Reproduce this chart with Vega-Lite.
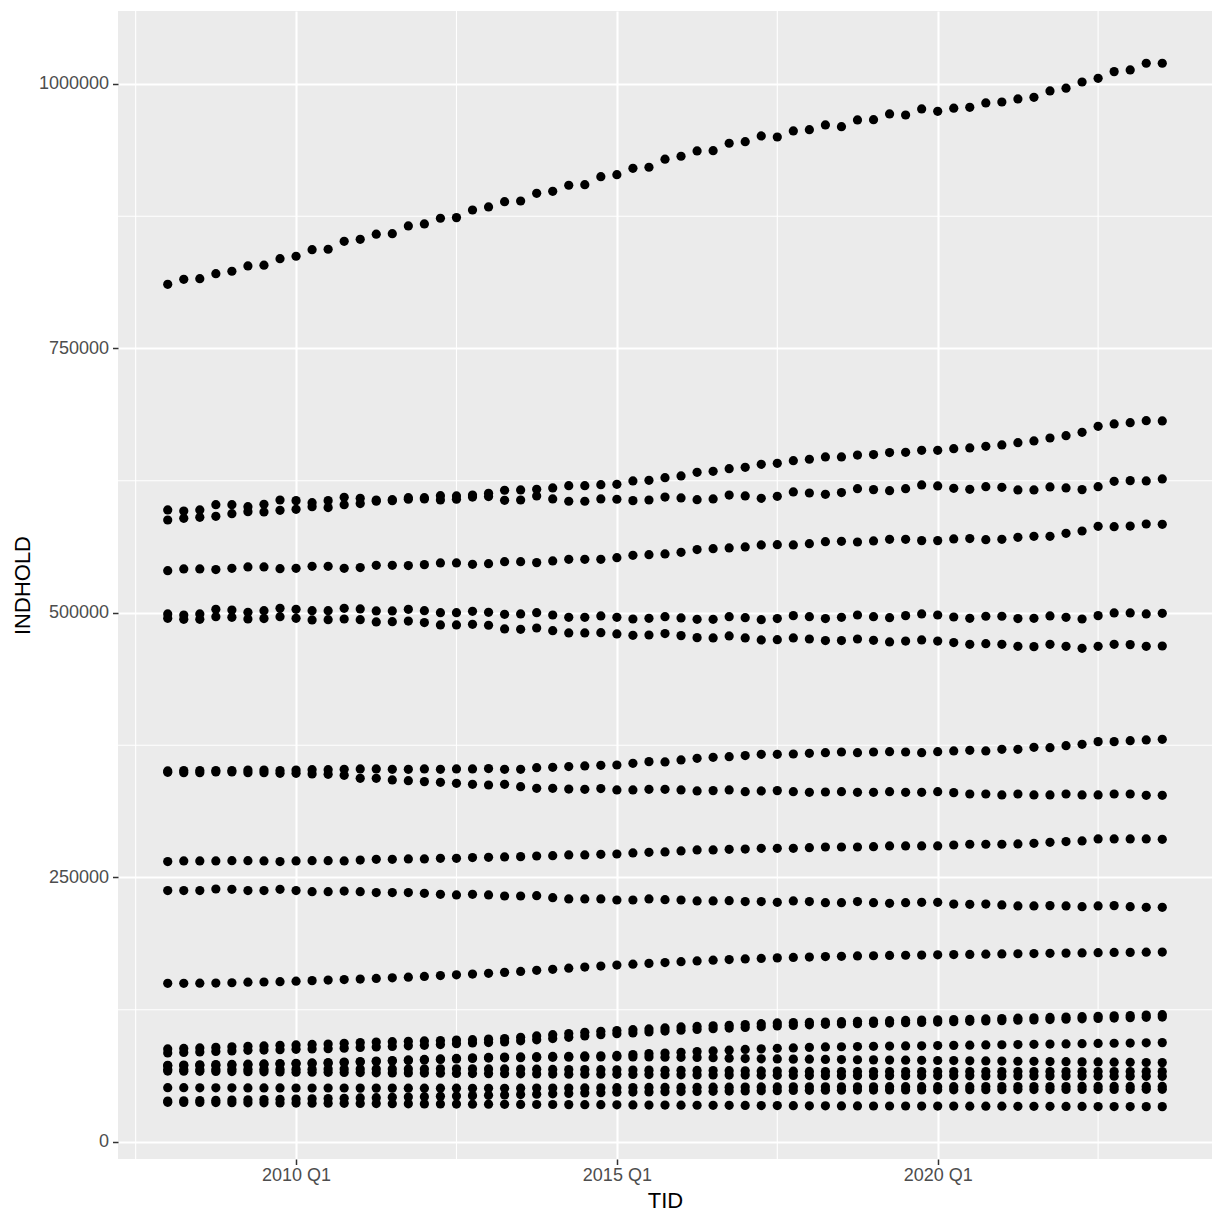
{
"$schema":"https://vega.github.io/schema/vega-lite/v6.json",
"width":1094,"height":1148,
"autosize":{"type":"none"},
"padding":{"left":118,"top":11,"right":12,"bottom":65},
"background":"white",
"config":{
"view":{"fill":"#EBEBEB","stroke":null},
"axis":{"domain":false,"grid":true,"gridColor":"white","gridWidth":2.1,"tickColor":"#333333","tickWidth":1.5,"tickSize":5.5,"labelColor":"#4D4D4D","labelFont":"Liberation Sans","labelFontSize":18,"titleFont":"Liberation Sans","titleFontSize":22,"titleColor":"black","titleFontWeight":"normal"}
},
"datasets":{
"pts":[
{"s":"A","t":2008,"v":810700},{"s":"A","t":2008.25,"v":815400},{"s":"A","t":2008.5,"v":816000},{"s":"A","t":2008.75,"v":820700},{"s":"A","t":2009,"v":823000},{"s":"A","t":2009.25,"v":828000},{"s":"A","t":2009.5,"v":828700},{"s":"A","t":2009.75,"v":834900},{"s":"A","t":2010,"v":837200},{"s":"A","t":2010.25,"v":843400},{"s":"A","t":2010.5,"v":843800},{"s":"A","t":2010.75,"v":851300},{"s":"A","t":2011,"v":853200},{"s":"A","t":2011.25,"v":858000},{"s":"A","t":2011.5,"v":858500},{"s":"A","t":2011.75,"v":865800},{"s":"A","t":2012,"v":867700},{"s":"A","t":2012.25,"v":873100},{"s":"A","t":2012.5,"v":873700},{"s":"A","t":2012.75,"v":880900},{"s":"A","t":2013,"v":883800},{"s":"A","t":2013.25,"v":888800},{"s":"A","t":2013.5,"v":889400},{"s":"A","t":2013.75,"v":896700},{"s":"A","t":2014,"v":898600},{"s":"A","t":2014.25,"v":904300},{"s":"A","t":2014.5,"v":904800},{"s":"A","t":2014.75,"v":912400},{"s":"A","t":2015,"v":914300},{"s":"A","t":2015.25,"v":920300},{"s":"A","t":2015.5,"v":921300},{"s":"A","t":2015.75,"v":928900},{"s":"A","t":2016,"v":931700},{"s":"A","t":2016.25,"v":936700},{"s":"A","t":2016.5,"v":937000},{"s":"A","t":2016.75,"v":944000},{"s":"A","t":2017,"v":945500},{"s":"A","t":2017.25,"v":950900},{"s":"A","t":2017.5,"v":949900},{"s":"A","t":2017.75,"v":955600},{"s":"A","t":2018,"v":956800},{"s":"A","t":2018.25,"v":961300},{"s":"A","t":2018.5,"v":959700},{"s":"A","t":2018.75,"v":966000},{"s":"A","t":2019,"v":966300},{"s":"A","t":2019.25,"v":971700},{"s":"A","t":2019.5,"v":970700},{"s":"A","t":2019.75,"v":976400},{"s":"A","t":2020,"v":974200},{"s":"A","t":2020.25,"v":977100},{"s":"A","t":2020.5,"v":978000},{"s":"A","t":2020.75,"v":982100},{"s":"A","t":2021,"v":983000},{"s":"A","t":2021.25,"v":985900},{"s":"A","t":2021.5,"v":987400},{"s":"A","t":2021.75,"v":993400},{"s":"A","t":2022,"v":996000},{"s":"A","t":2022.25,"v":1001900},{"s":"A","t":2022.5,"v":1005400},{"s":"A","t":2022.75,"v":1011700},{"s":"A","t":2023,"v":1013300},{"s":"A","t":2023.25,"v":1019600},{"s":"A","t":2023.5,"v":1019600},
{"s":"B","t":2008,"v":597400},{"s":"B","t":2008.25,"v":596400},{"s":"B","t":2008.5,"v":597400},{"s":"B","t":2008.75,"v":602400},{"s":"B","t":2009,"v":602400},{"s":"B","t":2009.25,"v":600500},{"s":"B","t":2009.5,"v":602700},{"s":"B","t":2009.75,"v":606800},{"s":"B","t":2010,"v":606200},{"s":"B","t":2010.25,"v":604300},{"s":"B","t":2010.5,"v":606200},{"s":"B","t":2010.75,"v":609300},{"s":"B","t":2011,"v":608400},{"s":"B","t":2011.25,"v":606800},{"s":"B","t":2011.5,"v":607100},{"s":"B","t":2011.75,"v":609000},{"s":"B","t":2012,"v":609000},{"s":"B","t":2012.25,"v":610900},{"s":"B","t":2012.5,"v":610600},{"s":"B","t":2012.75,"v":611500},{"s":"B","t":2013,"v":613100},{"s":"B","t":2013.25,"v":616000},{"s":"B","t":2013.5,"v":616300},{"s":"B","t":2013.75,"v":616900},{"s":"B","t":2014,"v":618200},{"s":"B","t":2014.25,"v":620300},{"s":"B","t":2014.5,"v":620300},{"s":"B","t":2014.75,"v":621300},{"s":"B","t":2015,"v":621600},{"s":"B","t":2015.25,"v":624800},{"s":"B","t":2015.5,"v":625400},{"s":"B","t":2015.75,"v":627900},{"s":"B","t":2016,"v":629500},{"s":"B","t":2016.25,"v":633000},{"s":"B","t":2016.5,"v":633900},{"s":"B","t":2016.75,"v":636400},{"s":"B","t":2017,"v":637700},{"s":"B","t":2017.25,"v":640500},{"s":"B","t":2017.5,"v":641500},{"s":"B","t":2017.75,"v":644000},{"s":"B","t":2018,"v":645300},{"s":"B","t":2018.25,"v":647500},{"s":"B","t":2018.5,"v":647500},{"s":"B","t":2018.75,"v":649300},{"s":"B","t":2019,"v":649700},{"s":"B","t":2019.25,"v":651600},{"s":"B","t":2019.5,"v":651900},{"s":"B","t":2019.75,"v":653800},{"s":"B","t":2020,"v":653800},{"s":"B","t":2020.25,"v":655300},{"s":"B","t":2020.5,"v":656000},{"s":"B","t":2020.75,"v":657500},{"s":"B","t":2021,"v":658800},{"s":"B","t":2021.25,"v":661000},{"s":"B","t":2021.5,"v":662600},{"s":"B","t":2021.75,"v":665400},{"s":"B","t":2022,"v":667600},{"s":"B","t":2022.25,"v":670800},{"s":"B","t":2022.5,"v":676400},{"s":"B","t":2022.75,"v":678700},{"s":"B","t":2023,"v":679900},{"s":"B","t":2023.25,"v":681800},{"s":"B","t":2023.5,"v":681500},
{"s":"C","t":2008,"v":587900},{"s":"C","t":2008.25,"v":589500},{"s":"C","t":2008.5,"v":590400},{"s":"C","t":2008.75,"v":591400},{"s":"C","t":2009,"v":593900},{"s":"C","t":2009.25,"v":595800},{"s":"C","t":2009.5,"v":595500},{"s":"C","t":2009.75,"v":597000},{"s":"C","t":2010,"v":598000},{"s":"C","t":2010.25,"v":600500},{"s":"C","t":2010.5,"v":599600},{"s":"C","t":2010.75,"v":602400},{"s":"C","t":2011,"v":603400},{"s":"C","t":2011.25,"v":605600},{"s":"C","t":2011.5,"v":606200},{"s":"C","t":2011.75,"v":607500},{"s":"C","t":2012,"v":607800},{"s":"C","t":2012.25,"v":606800},{"s":"C","t":2012.5,"v":607500},{"s":"C","t":2012.75,"v":609600},{"s":"C","t":2013,"v":610000},{"s":"C","t":2013.25,"v":606500},{"s":"C","t":2013.5,"v":606800},{"s":"C","t":2013.75,"v":610600},{"s":"C","t":2014,"v":607800},{"s":"C","t":2014.25,"v":605600},{"s":"C","t":2014.5,"v":605600},{"s":"C","t":2014.75,"v":607800},{"s":"C","t":2015,"v":607500},{"s":"C","t":2015.25,"v":606200},{"s":"C","t":2015.5,"v":606800},{"s":"C","t":2015.75,"v":609600},{"s":"C","t":2016,"v":608700},{"s":"C","t":2016.25,"v":607100},{"s":"C","t":2016.5,"v":607800},{"s":"C","t":2016.75,"v":611500},{"s":"C","t":2017,"v":610600},{"s":"C","t":2017.25,"v":608400},{"s":"C","t":2017.5,"v":610300},{"s":"C","t":2017.75,"v":614400},{"s":"C","t":2018,"v":613400},{"s":"C","t":2018.25,"v":612200},{"s":"C","t":2018.5,"v":613800},{"s":"C","t":2018.75,"v":617500},{"s":"C","t":2019,"v":616600},{"s":"C","t":2019.25,"v":615600},{"s":"C","t":2019.5,"v":617500},{"s":"C","t":2019.75,"v":621000},{"s":"C","t":2020,"v":620100},{"s":"C","t":2020.25,"v":617800},{"s":"C","t":2020.5,"v":616900},{"s":"C","t":2020.75,"v":619400},{"s":"C","t":2021,"v":618800},{"s":"C","t":2021.25,"v":616300},{"s":"C","t":2021.5,"v":616300},{"s":"C","t":2021.75,"v":619100},{"s":"C","t":2022,"v":618200},{"s":"C","t":2022.25,"v":616600},{"s":"C","t":2022.5,"v":619400},{"s":"C","t":2022.75,"v":624500},{"s":"C","t":2023,"v":625100},{"s":"C","t":2023.25,"v":624800},{"s":"C","t":2023.5,"v":626700},
{"s":"D","t":2008,"v":540000},{"s":"D","t":2008.25,"v":541600},{"s":"D","t":2008.5,"v":541600},{"s":"D","t":2008.75,"v":541000},{"s":"D","t":2009,"v":542200},{"s":"D","t":2009.25,"v":543500},{"s":"D","t":2009.5,"v":543500},{"s":"D","t":2009.75,"v":541900},{"s":"D","t":2010,"v":542200},{"s":"D","t":2010.25,"v":544100},{"s":"D","t":2010.5,"v":544100},{"s":"D","t":2010.75,"v":542200},{"s":"D","t":2011,"v":542900},{"s":"D","t":2011.25,"v":545100},{"s":"D","t":2011.5,"v":545100},{"s":"D","t":2011.75,"v":544800},{"s":"D","t":2012,"v":545700},{"s":"D","t":2012.25,"v":547300},{"s":"D","t":2012.5,"v":547300},{"s":"D","t":2012.75,"v":546000},{"s":"D","t":2013,"v":546600},{"s":"D","t":2013.25,"v":548500},{"s":"D","t":2013.5,"v":548500},{"s":"D","t":2013.75,"v":547600},{"s":"D","t":2014,"v":549200},{"s":"D","t":2014.25,"v":550700},{"s":"D","t":2014.5,"v":550700},{"s":"D","t":2014.75,"v":550700},{"s":"D","t":2015,"v":552300},{"s":"D","t":2015.25,"v":554500},{"s":"D","t":2015.5,"v":555100},{"s":"D","t":2015.75,"v":555800},{"s":"D","t":2016,"v":557300},{"s":"D","t":2016.25,"v":559900},{"s":"D","t":2016.5,"v":560800},{"s":"D","t":2016.75,"v":561500},{"s":"D","t":2017,"v":562400},{"s":"D","t":2017.25,"v":564300},{"s":"D","t":2017.5,"v":564600},{"s":"D","t":2017.75,"v":564300},{"s":"D","t":2018,"v":565500},{"s":"D","t":2018.25,"v":567400},{"s":"D","t":2018.5,"v":567700},{"s":"D","t":2018.75,"v":567100},{"s":"D","t":2019,"v":568100},{"s":"D","t":2019.25,"v":569600},{"s":"D","t":2019.5,"v":569600},{"s":"D","t":2019.75,"v":568400},{"s":"D","t":2020,"v":568400},{"s":"D","t":2020.25,"v":570000},{"s":"D","t":2020.5,"v":570300},{"s":"D","t":2020.75,"v":569300},{"s":"D","t":2021,"v":569600},{"s":"D","t":2021.25,"v":571500},{"s":"D","t":2021.5,"v":572500},{"s":"D","t":2021.75,"v":572500},{"s":"D","t":2022,"v":575300},{"s":"D","t":2022.25,"v":577500},{"s":"D","t":2022.5,"v":581900},{"s":"D","t":2022.75,"v":581600},{"s":"D","t":2023,"v":582200},{"s":"D","t":2023.25,"v":584100},{"s":"D","t":2023.5,"v":583800},
{"s":"E","t":2008,"v":499100},{"s":"E","t":2008.25,"v":498100},{"s":"E","t":2008.5,"v":499100},{"s":"E","t":2008.75,"v":503500},{"s":"E","t":2009,"v":502800},{"s":"E","t":2009.25,"v":500600},{"s":"E","t":2009.5,"v":502200},{"s":"E","t":2009.75,"v":504400},{"s":"E","t":2010,"v":503500},{"s":"E","t":2010.25,"v":502200},{"s":"E","t":2010.5,"v":502200},{"s":"E","t":2010.75,"v":504400},{"s":"E","t":2011,"v":503800},{"s":"E","t":2011.25,"v":501900},{"s":"E","t":2011.5,"v":501900},{"s":"E","t":2011.75,"v":503500},{"s":"E","t":2012,"v":502200},{"s":"E","t":2012.25,"v":500300},{"s":"E","t":2012.5,"v":500300},{"s":"E","t":2012.75,"v":501600},{"s":"E","t":2013,"v":500600},{"s":"E","t":2013.25,"v":498700},{"s":"E","t":2013.5,"v":499100},{"s":"E","t":2013.75,"v":500300},{"s":"E","t":2014,"v":498100},{"s":"E","t":2014.25,"v":495900},{"s":"E","t":2014.5,"v":495900},{"s":"E","t":2014.75,"v":497200},{"s":"E","t":2015,"v":495900},{"s":"E","t":2015.25,"v":494300},{"s":"E","t":2015.5,"v":495000},{"s":"E","t":2015.75,"v":496500},{"s":"E","t":2016,"v":495300},{"s":"E","t":2016.25,"v":494000},{"s":"E","t":2016.5,"v":494000},{"s":"E","t":2016.75,"v":496500},{"s":"E","t":2017,"v":495600},{"s":"E","t":2017.25,"v":493700},{"s":"E","t":2017.5,"v":494700},{"s":"E","t":2017.75,"v":497500},{"s":"E","t":2018,"v":496500},{"s":"E","t":2018.25,"v":494700},{"s":"E","t":2018.5,"v":495900},{"s":"E","t":2018.75,"v":498100},{"s":"E","t":2019,"v":496500},{"s":"E","t":2019.25,"v":495600},{"s":"E","t":2019.5,"v":497500},{"s":"E","t":2019.75,"v":499100},{"s":"E","t":2020,"v":498100},{"s":"E","t":2020.25,"v":496200},{"s":"E","t":2020.5,"v":495000},{"s":"E","t":2020.75,"v":496900},{"s":"E","t":2021,"v":496900},{"s":"E","t":2021.25,"v":494700},{"s":"E","t":2021.5,"v":495000},{"s":"E","t":2021.75,"v":497200},{"s":"E","t":2022,"v":495900},{"s":"E","t":2022.25,"v":494300},{"s":"E","t":2022.5,"v":497500},{"s":"E","t":2022.75,"v":500000},{"s":"E","t":2023,"v":500000},{"s":"E","t":2023.25,"v":499100},{"s":"E","t":2023.5,"v":499700},
{"s":"F","t":2008,"v":495000},{"s":"F","t":2008.25,"v":494000},{"s":"F","t":2008.5,"v":494000},{"s":"F","t":2008.75,"v":496500},{"s":"F","t":2009,"v":495900},{"s":"F","t":2009.25,"v":494300},{"s":"F","t":2009.5,"v":494700},{"s":"F","t":2009.75,"v":496500},{"s":"F","t":2010,"v":495000},{"s":"F","t":2010.25,"v":493400},{"s":"F","t":2010.5,"v":493700},{"s":"F","t":2010.75,"v":494300},{"s":"F","t":2011,"v":493700},{"s":"F","t":2011.25,"v":491500},{"s":"F","t":2011.5,"v":491800},{"s":"F","t":2011.75,"v":492400},{"s":"F","t":2012,"v":490900},{"s":"F","t":2012.25,"v":488700},{"s":"F","t":2012.5,"v":488700},{"s":"F","t":2012.75,"v":489300},{"s":"F","t":2013,"v":488400},{"s":"F","t":2013.25,"v":484900},{"s":"F","t":2013.5,"v":484600},{"s":"F","t":2013.75,"v":485800},{"s":"F","t":2014,"v":483300},{"s":"F","t":2014.25,"v":481100},{"s":"F","t":2014.5,"v":481100},{"s":"F","t":2014.75,"v":481400},{"s":"F","t":2015,"v":480200},{"s":"F","t":2015.25,"v":478900},{"s":"F","t":2015.5,"v":479200},{"s":"F","t":2015.75,"v":480500},{"s":"F","t":2016,"v":478600},{"s":"F","t":2016.25,"v":476700},{"s":"F","t":2016.5,"v":476400},{"s":"F","t":2016.75,"v":478300},{"s":"F","t":2017,"v":476400},{"s":"F","t":2017.25,"v":474500},{"s":"F","t":2017.5,"v":474800},{"s":"F","t":2017.75,"v":476400},{"s":"F","t":2018,"v":475400},{"s":"F","t":2018.25,"v":473900},{"s":"F","t":2018.5,"v":473900},{"s":"F","t":2018.75,"v":475400},{"s":"F","t":2019,"v":474200},{"s":"F","t":2019.25,"v":472600},{"s":"F","t":2019.5,"v":473500},{"s":"F","t":2019.75,"v":474500},{"s":"F","t":2020,"v":473500},{"s":"F","t":2020.25,"v":472000},{"s":"F","t":2020.5,"v":470400},{"s":"F","t":2020.75,"v":471000},{"s":"F","t":2021,"v":470400},{"s":"F","t":2021.25,"v":468500},{"s":"F","t":2021.5,"v":468200},{"s":"F","t":2021.75,"v":470400},{"s":"F","t":2022,"v":468500},{"s":"F","t":2022.25,"v":466600},{"s":"F","t":2022.5,"v":468500},{"s":"F","t":2022.75,"v":470400},{"s":"F","t":2023,"v":470100},{"s":"F","t":2023.25,"v":468500},{"s":"F","t":2023.5,"v":468800},
{"s":"G","t":2008,"v":350700},{"s":"G","t":2008.25,"v":351000},{"s":"G","t":2008.5,"v":351000},{"s":"G","t":2008.75,"v":351000},{"s":"G","t":2009,"v":351000},{"s":"G","t":2009.25,"v":351600},{"s":"G","t":2009.5,"v":351600},{"s":"G","t":2009.75,"v":351000},{"s":"G","t":2010,"v":351600},{"s":"G","t":2010.25,"v":351900},{"s":"G","t":2010.5,"v":351900},{"s":"G","t":2010.75,"v":352200},{"s":"G","t":2011,"v":352600},{"s":"G","t":2011.25,"v":352600},{"s":"G","t":2011.5,"v":352200},{"s":"G","t":2011.75,"v":352200},{"s":"G","t":2012,"v":352600},{"s":"G","t":2012.25,"v":352200},{"s":"G","t":2012.5,"v":352600},{"s":"G","t":2012.75,"v":352600},{"s":"G","t":2013,"v":352900},{"s":"G","t":2013.25,"v":352200},{"s":"G","t":2013.5,"v":352200},{"s":"G","t":2013.75,"v":353800},{"s":"G","t":2014,"v":354100},{"s":"G","t":2014.25,"v":354800},{"s":"G","t":2014.5,"v":355400},{"s":"G","t":2014.75,"v":356000},{"s":"G","t":2015,"v":356300},{"s":"G","t":2015.25,"v":357900},{"s":"G","t":2015.5,"v":359500},{"s":"G","t":2015.75,"v":359200},{"s":"G","t":2016,"v":361100},{"s":"G","t":2016.25,"v":362600},{"s":"G","t":2016.5,"v":363600},{"s":"G","t":2016.75,"v":364200},{"s":"G","t":2017,"v":365200},{"s":"G","t":2017.25,"v":366400},{"s":"G","t":2017.5,"v":366400},{"s":"G","t":2017.75,"v":366700},{"s":"G","t":2018,"v":367400},{"s":"G","t":2018.25,"v":368000},{"s":"G","t":2018.5,"v":368600},{"s":"G","t":2018.75,"v":368000},{"s":"G","t":2019,"v":368600},{"s":"G","t":2019.25,"v":368900},{"s":"G","t":2019.5,"v":368600},{"s":"G","t":2019.75,"v":368000},{"s":"G","t":2020,"v":368900},{"s":"G","t":2020.25,"v":369600},{"s":"G","t":2020.5,"v":370200},{"s":"G","t":2020.75,"v":369600},{"s":"G","t":2021,"v":371100},{"s":"G","t":2021.25,"v":371100},{"s":"G","t":2021.5,"v":373000},{"s":"G","t":2021.75,"v":372700},{"s":"G","t":2022,"v":374600},{"s":"G","t":2022.25,"v":375900},{"s":"G","t":2022.5,"v":378400},{"s":"G","t":2022.75,"v":378400},{"s":"G","t":2023,"v":379300},{"s":"G","t":2023.25,"v":380000},{"s":"G","t":2023.5,"v":380600},
{"s":"H","t":2008,"v":349400},{"s":"H","t":2008.25,"v":349100},{"s":"H","t":2008.5,"v":349100},{"s":"H","t":2008.75,"v":349700},{"s":"H","t":2009,"v":349700},{"s":"H","t":2009.25,"v":349100},{"s":"H","t":2009.5,"v":349100},{"s":"H","t":2009.75,"v":348500},{"s":"H","t":2010,"v":348500},{"s":"H","t":2010.25,"v":347800},{"s":"H","t":2010.5,"v":347500},{"s":"H","t":2010.75,"v":346600},{"s":"H","t":2011,"v":343700},{"s":"H","t":2011.25,"v":343700},{"s":"H","t":2011.5,"v":342200},{"s":"H","t":2011.75,"v":341500},{"s":"H","t":2012,"v":340600},{"s":"H","t":2012.25,"v":339900},{"s":"H","t":2012.5,"v":339000},{"s":"H","t":2012.75,"v":338100},{"s":"H","t":2013,"v":337400},{"s":"H","t":2013.25,"v":338100},{"s":"H","t":2013.5,"v":335800},{"s":"H","t":2013.75,"v":334300},{"s":"H","t":2014,"v":334300},{"s":"H","t":2014.25,"v":333600},{"s":"H","t":2014.5,"v":333300},{"s":"H","t":2014.75,"v":334000},{"s":"H","t":2015,"v":332700},{"s":"H","t":2015.25,"v":332700},{"s":"H","t":2015.5,"v":333300},{"s":"H","t":2015.75,"v":333300},{"s":"H","t":2016,"v":332700},{"s":"H","t":2016.25,"v":331800},{"s":"H","t":2016.5,"v":332100},{"s":"H","t":2016.75,"v":332700},{"s":"H","t":2017,"v":331100},{"s":"H","t":2017.25,"v":331800},{"s":"H","t":2017.5,"v":332100},{"s":"H","t":2017.75,"v":331100},{"s":"H","t":2018,"v":330500},{"s":"H","t":2018.25,"v":330800},{"s":"H","t":2018.5,"v":331100},{"s":"H","t":2018.75,"v":330500},{"s":"H","t":2019,"v":330500},{"s":"H","t":2019.25,"v":331100},{"s":"H","t":2019.5,"v":330500},{"s":"H","t":2019.75,"v":330500},{"s":"H","t":2020,"v":331100},{"s":"H","t":2020.25,"v":330200},{"s":"H","t":2020.5,"v":328900},{"s":"H","t":2020.75,"v":328900},{"s":"H","t":2021,"v":328000},{"s":"H","t":2021.25,"v":328900},{"s":"H","t":2021.5,"v":328000},{"s":"H","t":2021.75,"v":328000},{"s":"H","t":2022,"v":328900},{"s":"H","t":2022.25,"v":328000},{"s":"H","t":2022.5,"v":328000},{"s":"H","t":2022.75,"v":328900},{"s":"H","t":2023,"v":328900},{"s":"H","t":2023.25,"v":327700},{"s":"H","t":2023.5,"v":327700},
{"s":"I","t":2008,"v":265000},{"s":"I","t":2008.25,"v":265600},{"s":"I","t":2008.5,"v":265600},{"s":"I","t":2008.75,"v":265600},{"s":"I","t":2009,"v":265900},{"s":"I","t":2009.25,"v":265900},{"s":"I","t":2009.5,"v":265600},{"s":"I","t":2009.75,"v":265000},{"s":"I","t":2010,"v":265600},{"s":"I","t":2010.25,"v":265900},{"s":"I","t":2010.5,"v":265900},{"s":"I","t":2010.75,"v":265600},{"s":"I","t":2011,"v":266500},{"s":"I","t":2011.25,"v":267200},{"s":"I","t":2011.5,"v":267200},{"s":"I","t":2011.75,"v":267500},{"s":"I","t":2012,"v":267500},{"s":"I","t":2012.25,"v":268100},{"s":"I","t":2012.5,"v":268100},{"s":"I","t":2012.75,"v":268800},{"s":"I","t":2013,"v":269100},{"s":"I","t":2013.25,"v":269400},{"s":"I","t":2013.5,"v":269700},{"s":"I","t":2013.75,"v":270300},{"s":"I","t":2014,"v":270600},{"s":"I","t":2014.25,"v":271300},{"s":"I","t":2014.5,"v":271300},{"s":"I","t":2014.75,"v":271900},{"s":"I","t":2015,"v":272200},{"s":"I","t":2015.25,"v":273200},{"s":"I","t":2015.5,"v":273800},{"s":"I","t":2015.75,"v":274100},{"s":"I","t":2016,"v":275100},{"s":"I","t":2016.25,"v":276000},{"s":"I","t":2016.5,"v":276000},{"s":"I","t":2016.75,"v":276600},{"s":"I","t":2017,"v":276900},{"s":"I","t":2017.25,"v":277600},{"s":"I","t":2017.5,"v":277600},{"s":"I","t":2017.75,"v":277600},{"s":"I","t":2018,"v":278200},{"s":"I","t":2018.25,"v":278800},{"s":"I","t":2018.5,"v":278800},{"s":"I","t":2018.75,"v":278800},{"s":"I","t":2019,"v":279100},{"s":"I","t":2019.25,"v":279800},{"s":"I","t":2019.5,"v":279800},{"s":"I","t":2019.75,"v":279800},{"s":"I","t":2020,"v":279800},{"s":"I","t":2020.25,"v":280700},{"s":"I","t":2020.5,"v":281400},{"s":"I","t":2020.75,"v":281400},{"s":"I","t":2021,"v":281400},{"s":"I","t":2021.25,"v":281700},{"s":"I","t":2021.5,"v":282300},{"s":"I","t":2021.75,"v":283200},{"s":"I","t":2022,"v":283900},{"s":"I","t":2022.25,"v":284500},{"s":"I","t":2022.5,"v":286400},{"s":"I","t":2022.75,"v":286400},{"s":"I","t":2023,"v":286400},{"s":"I","t":2023.25,"v":286400},{"s":"I","t":2023.5,"v":286100},
{"s":"J","t":2008,"v":237600},{"s":"J","t":2008.25,"v":237600},{"s":"J","t":2008.5,"v":237600},{"s":"J","t":2008.75,"v":239100},{"s":"J","t":2009,"v":238800},{"s":"J","t":2009.25,"v":237600},{"s":"J","t":2009.5,"v":237600},{"s":"J","t":2009.75,"v":238800},{"s":"J","t":2010,"v":237600},{"s":"J","t":2010.25,"v":236600},{"s":"J","t":2010.5,"v":236600},{"s":"J","t":2010.75,"v":237200},{"s":"J","t":2011,"v":236600},{"s":"J","t":2011.25,"v":235700},{"s":"J","t":2011.5,"v":235700},{"s":"J","t":2011.75,"v":235700},{"s":"J","t":2012,"v":235000},{"s":"J","t":2012.25,"v":234100},{"s":"J","t":2012.5,"v":233500},{"s":"J","t":2012.75,"v":234100},{"s":"J","t":2013,"v":233500},{"s":"J","t":2013.25,"v":232500},{"s":"J","t":2013.5,"v":232500},{"s":"J","t":2013.75,"v":232800},{"s":"J","t":2014,"v":230900},{"s":"J","t":2014.25,"v":229700},{"s":"J","t":2014.5,"v":229700},{"s":"J","t":2014.75,"v":229700},{"s":"J","t":2015,"v":228700},{"s":"J","t":2015.25,"v":228700},{"s":"J","t":2015.5,"v":229700},{"s":"J","t":2015.75,"v":229000},{"s":"J","t":2016,"v":228700},{"s":"J","t":2016.25,"v":227800},{"s":"J","t":2016.5,"v":227800},{"s":"J","t":2016.75,"v":228100},{"s":"J","t":2017,"v":227200},{"s":"J","t":2017.25,"v":227200},{"s":"J","t":2017.5,"v":226500},{"s":"J","t":2017.75,"v":227800},{"s":"J","t":2018,"v":227200},{"s":"J","t":2018.25,"v":226200},{"s":"J","t":2018.5,"v":226200},{"s":"J","t":2018.75,"v":227200},{"s":"J","t":2019,"v":226200},{"s":"J","t":2019.25,"v":225600},{"s":"J","t":2019.5,"v":226200},{"s":"J","t":2019.75,"v":226500},{"s":"J","t":2020,"v":226500},{"s":"J","t":2020.25,"v":224900},{"s":"J","t":2020.5,"v":224600},{"s":"J","t":2020.75,"v":224900},{"s":"J","t":2021,"v":224000},{"s":"J","t":2021.25,"v":223100},{"s":"J","t":2021.5,"v":223100},{"s":"J","t":2021.75,"v":223400},{"s":"J","t":2022,"v":223100},{"s":"J","t":2022.25,"v":222400},{"s":"J","t":2022.5,"v":223100},{"s":"J","t":2022.75,"v":223400},{"s":"J","t":2023,"v":222400},{"s":"J","t":2023.25,"v":221800},{"s":"J","t":2023.5,"v":221800},
{"s":"K","t":2008,"v":150000},{"s":"K","t":2008.25,"v":150000},{"s":"K","t":2008.5,"v":150100},{"s":"K","t":2008.75,"v":150200},{"s":"K","t":2009,"v":150500},{"s":"K","t":2009.25,"v":151000},{"s":"K","t":2009.5,"v":151200},{"s":"K","t":2009.75,"v":151500},{"s":"K","t":2010,"v":152000},{"s":"K","t":2010.25,"v":152500},{"s":"K","t":2010.5,"v":153000},{"s":"K","t":2010.75,"v":153500},{"s":"K","t":2011,"v":154000},{"s":"K","t":2011.25,"v":154600},{"s":"K","t":2011.5,"v":155200},{"s":"K","t":2011.75,"v":155800},{"s":"K","t":2012,"v":156500},{"s":"K","t":2012.25,"v":157300},{"s":"K","t":2012.5,"v":158000},{"s":"K","t":2012.75,"v":158700},{"s":"K","t":2013,"v":159400},{"s":"K","t":2013.25,"v":160300},{"s":"K","t":2013.5,"v":161200},{"s":"K","t":2013.75,"v":162200},{"s":"K","t":2014,"v":163200},{"s":"K","t":2014.25,"v":164300},{"s":"K","t":2014.5,"v":165300},{"s":"K","t":2014.75,"v":166300},{"s":"K","t":2015,"v":167200},{"s":"K","t":2015.25,"v":168000},{"s":"K","t":2015.5,"v":168800},{"s":"K","t":2015.75,"v":169600},{"s":"K","t":2016,"v":170400},{"s":"K","t":2016.25,"v":171100},{"s":"K","t":2016.5,"v":171800},{"s":"K","t":2016.75,"v":172400},{"s":"K","t":2017,"v":173000},{"s":"K","t":2017.25,"v":173500},{"s":"K","t":2017.5,"v":174000},{"s":"K","t":2017.75,"v":174400},{"s":"K","t":2018,"v":174800},{"s":"K","t":2018.25,"v":175200},{"s":"K","t":2018.5,"v":175500},{"s":"K","t":2018.75,"v":175800},{"s":"K","t":2019,"v":176000},{"s":"K","t":2019.25,"v":176300},{"s":"K","t":2019.5,"v":176500},{"s":"K","t":2019.75,"v":176700},{"s":"K","t":2020,"v":176900},{"s":"K","t":2020.25,"v":177100},{"s":"K","t":2020.5,"v":177300},{"s":"K","t":2020.75,"v":177500},{"s":"K","t":2021,"v":177700},{"s":"K","t":2021.25,"v":177900},{"s":"K","t":2021.5,"v":178100},{"s":"K","t":2021.75,"v":178300},{"s":"K","t":2022,"v":178500},{"s":"K","t":2022.25,"v":178700},{"s":"K","t":2022.5,"v":178900},{"s":"K","t":2022.75,"v":179100},{"s":"K","t":2023,"v":179200},{"s":"K","t":2023.25,"v":179400},{"s":"K","t":2023.5,"v":179500},
{"s":"L1","t":2008,"v":87900},{"s":"L1","t":2008.25,"v":88400},{"s":"L1","t":2008.5,"v":88900},{"s":"L1","t":2008.75,"v":89400},{"s":"L1","t":2009,"v":89900},{"s":"L1","t":2009.25,"v":90400},{"s":"L1","t":2009.5,"v":90800},{"s":"L1","t":2009.75,"v":91300},{"s":"L1","t":2010,"v":91700},{"s":"L1","t":2010.25,"v":92200},{"s":"L1","t":2010.5,"v":92600},{"s":"L1","t":2010.75,"v":93200},{"s":"L1","t":2011,"v":93900},{"s":"L1","t":2011.25,"v":94500},{"s":"L1","t":2011.5,"v":94800},{"s":"L1","t":2011.75,"v":95200},{"s":"L1","t":2012,"v":95500},{"s":"L1","t":2012.25,"v":95900},{"s":"L1","t":2012.5,"v":96300},{"s":"L1","t":2012.75,"v":96700},{"s":"L1","t":2013,"v":97200},{"s":"L1","t":2013.25,"v":97700},{"s":"L1","t":2013.5,"v":98900},{"s":"L1","t":2013.75,"v":100200},{"s":"L1","t":2014,"v":101400},{"s":"L1","t":2014.25,"v":102500},{"s":"L1","t":2014.5,"v":103600},{"s":"L1","t":2014.75,"v":104600},{"s":"L1","t":2015,"v":105300},{"s":"L1","t":2015.25,"v":106100},{"s":"L1","t":2015.5,"v":106800},{"s":"L1","t":2015.75,"v":107800},{"s":"L1","t":2016,"v":108700},{"s":"L1","t":2016.25,"v":109200},{"s":"L1","t":2016.5,"v":109800},{"s":"L1","t":2016.75,"v":110300},{"s":"L1","t":2017,"v":111000},{"s":"L1","t":2017.25,"v":111800},{"s":"L1","t":2017.5,"v":112500},{"s":"L1","t":2017.75,"v":112800},{"s":"L1","t":2018,"v":113100},{"s":"L1","t":2018.25,"v":113400},{"s":"L1","t":2018.5,"v":113700},{"s":"L1","t":2018.75,"v":114000},{"s":"L1","t":2019,"v":114300},{"s":"L1","t":2019.25,"v":114600},{"s":"L1","t":2019.5,"v":114900},{"s":"L1","t":2019.75,"v":115200},{"s":"L1","t":2020,"v":115400},{"s":"L1","t":2020.25,"v":115700},{"s":"L1","t":2020.5,"v":116000},{"s":"L1","t":2020.75,"v":116300},{"s":"L1","t":2021,"v":116600},{"s":"L1","t":2021.25,"v":117000},{"s":"L1","t":2021.5,"v":117300},{"s":"L1","t":2021.75,"v":117700},{"s":"L1","t":2022,"v":118000},{"s":"L1","t":2022.25,"v":118400},{"s":"L1","t":2022.5,"v":118800},{"s":"L1","t":2022.75,"v":119200},{"s":"L1","t":2023,"v":119500},{"s":"L1","t":2023.25,"v":119900},{"s":"L1","t":2023.5,"v":120300},
{"s":"L2","t":2008,"v":84100},{"s":"L2","t":2008.25,"v":84600},{"s":"L2","t":2008.5,"v":85100},{"s":"L2","t":2008.75,"v":85600},{"s":"L2","t":2009,"v":86100},{"s":"L2","t":2009.25,"v":86600},{"s":"L2","t":2009.5,"v":86900},{"s":"L2","t":2009.75,"v":87200},{"s":"L2","t":2010,"v":87600},{"s":"L2","t":2010.25,"v":87900},{"s":"L2","t":2010.5,"v":88200},{"s":"L2","t":2010.75,"v":88700},{"s":"L2","t":2011,"v":89300},{"s":"L2","t":2011.25,"v":89800},{"s":"L2","t":2011.5,"v":90300},{"s":"L2","t":2011.75,"v":90900},{"s":"L2","t":2012,"v":91400},{"s":"L2","t":2012.25,"v":92100},{"s":"L2","t":2012.5,"v":92900},{"s":"L2","t":2012.75,"v":93600},{"s":"L2","t":2013,"v":94000},{"s":"L2","t":2013.25,"v":94500},{"s":"L2","t":2013.5,"v":95600},{"s":"L2","t":2013.75,"v":96600},{"s":"L2","t":2014,"v":97700},{"s":"L2","t":2014.25,"v":98900},{"s":"L2","t":2014.5,"v":100200},{"s":"L2","t":2014.75,"v":101400},{"s":"L2","t":2015,"v":102300},{"s":"L2","t":2015.25,"v":103100},{"s":"L2","t":2015.5,"v":104000},{"s":"L2","t":2015.75,"v":104800},{"s":"L2","t":2016,"v":105600},{"s":"L2","t":2016.25,"v":106300},{"s":"L2","t":2016.5,"v":107000},{"s":"L2","t":2016.75,"v":107700},{"s":"L2","t":2017,"v":108300},{"s":"L2","t":2017.25,"v":109000},{"s":"L2","t":2017.5,"v":109600},{"s":"L2","t":2017.75,"v":110100},{"s":"L2","t":2018,"v":110700},{"s":"L2","t":2018.25,"v":111200},{"s":"L2","t":2018.5,"v":111500},{"s":"L2","t":2018.75,"v":111800},{"s":"L2","t":2019,"v":112100},{"s":"L2","t":2019.25,"v":112400},{"s":"L2","t":2019.5,"v":112700},{"s":"L2","t":2019.75,"v":113000},{"s":"L2","t":2020,"v":113300},{"s":"L2","t":2020.25,"v":113700},{"s":"L2","t":2020.5,"v":114000},{"s":"L2","t":2020.75,"v":114400},{"s":"L2","t":2021,"v":114700},{"s":"L2","t":2021.25,"v":115100},{"s":"L2","t":2021.5,"v":115400},{"s":"L2","t":2021.75,"v":115700},{"s":"L2","t":2022,"v":116000},{"s":"L2","t":2022.25,"v":116400},{"s":"L2","t":2022.5,"v":116700},{"s":"L2","t":2022.75,"v":117100},{"s":"L2","t":2023,"v":117400},{"s":"L2","t":2023.25,"v":117800},{"s":"L2","t":2023.5,"v":118100},
{"s":"L3","t":2008,"v":72500},{"s":"L3","t":2008.25,"v":72700},{"s":"L3","t":2008.5,"v":72900},{"s":"L3","t":2008.75,"v":73100},{"s":"L3","t":2009,"v":73300},{"s":"L3","t":2009.25,"v":73500},{"s":"L3","t":2009.5,"v":73800},{"s":"L3","t":2009.75,"v":74100},{"s":"L3","t":2010,"v":74400},{"s":"L3","t":2010.25,"v":74700},{"s":"L3","t":2010.5,"v":75000},{"s":"L3","t":2010.75,"v":75500},{"s":"L3","t":2011,"v":76000},{"s":"L3","t":2011.25,"v":76500},{"s":"L3","t":2011.5,"v":77000},{"s":"L3","t":2011.75,"v":77500},{"s":"L3","t":2012,"v":78000},{"s":"L3","t":2012.25,"v":78500},{"s":"L3","t":2012.5,"v":79000},{"s":"L3","t":2012.75,"v":79500},{"s":"L3","t":2013,"v":79900},{"s":"L3","t":2013.25,"v":80200},{"s":"L3","t":2013.5,"v":80400},{"s":"L3","t":2013.75,"v":80600},{"s":"L3","t":2014,"v":80800},{"s":"L3","t":2014.25,"v":81000},{"s":"L3","t":2014.5,"v":81300},{"s":"L3","t":2014.75,"v":81500},{"s":"L3","t":2015,"v":81800},{"s":"L3","t":2015.25,"v":82600},{"s":"L3","t":2015.5,"v":83500},{"s":"L3","t":2015.75,"v":84100},{"s":"L3","t":2016,"v":84800},{"s":"L3","t":2016.25,"v":85400},{"s":"L3","t":2016.5,"v":86000},{"s":"L3","t":2016.75,"v":86800},{"s":"L3","t":2017,"v":87500},{"s":"L3","t":2017.25,"v":88000},{"s":"L3","t":2017.5,"v":88500},{"s":"L3","t":2017.75,"v":88900},{"s":"L3","t":2018,"v":89400},{"s":"L3","t":2018.25,"v":89800},{"s":"L3","t":2018.5,"v":90000},{"s":"L3","t":2018.75,"v":90200},{"s":"L3","t":2019,"v":90400},{"s":"L3","t":2019.25,"v":90600},{"s":"L3","t":2019.5,"v":90800},{"s":"L3","t":2019.75,"v":90900},{"s":"L3","t":2020,"v":91100},{"s":"L3","t":2020.25,"v":91300},{"s":"L3","t":2020.5,"v":91500},{"s":"L3","t":2020.75,"v":91700},{"s":"L3","t":2021,"v":91900},{"s":"L3","t":2021.25,"v":92100},{"s":"L3","t":2021.5,"v":92300},{"s":"L3","t":2021.75,"v":92500},{"s":"L3","t":2022,"v":92700},{"s":"L3","t":2022.25,"v":92900},{"s":"L3","t":2022.5,"v":93100},{"s":"L3","t":2022.75,"v":93300},{"s":"L3","t":2023,"v":93500},{"s":"L3","t":2023.25,"v":93700},{"s":"L3","t":2023.5,"v":93900},
{"s":"L4","t":2008,"v":72000},{"s":"L4","t":2008.25,"v":72200},{"s":"L4","t":2008.5,"v":72400},{"s":"L4","t":2008.75,"v":72600},{"s":"L4","t":2009,"v":72800},{"s":"L4","t":2009.25,"v":73000},{"s":"L4","t":2009.5,"v":73300},{"s":"L4","t":2009.75,"v":73600},{"s":"L4","t":2010,"v":73900},{"s":"L4","t":2010.25,"v":74200},{"s":"L4","t":2010.5,"v":74500},{"s":"L4","t":2010.75,"v":75000},{"s":"L4","t":2011,"v":75500},{"s":"L4","t":2011.25,"v":76000},{"s":"L4","t":2011.5,"v":76500},{"s":"L4","t":2011.75,"v":77000},{"s":"L4","t":2012,"v":77500},{"s":"L4","t":2012.25,"v":78000},{"s":"L4","t":2012.5,"v":78500},{"s":"L4","t":2012.75,"v":79000},{"s":"L4","t":2013,"v":79300},{"s":"L4","t":2013.25,"v":79500},{"s":"L4","t":2013.5,"v":79700},{"s":"L4","t":2013.75,"v":79800},{"s":"L4","t":2014,"v":80000},{"s":"L4","t":2014.25,"v":80100},{"s":"L4","t":2014.5,"v":80200},{"s":"L4","t":2014.75,"v":80400},{"s":"L4","t":2015,"v":80500},{"s":"L4","t":2015.25,"v":80400},{"s":"L4","t":2015.5,"v":80300},{"s":"L4","t":2015.75,"v":80100},{"s":"L4","t":2016,"v":80000},{"s":"L4","t":2016.25,"v":79900},{"s":"L4","t":2016.5,"v":79700},{"s":"L4","t":2016.75,"v":79200},{"s":"L4","t":2017,"v":78800},{"s":"L4","t":2017.25,"v":78600},{"s":"L4","t":2017.5,"v":78500},{"s":"L4","t":2017.75,"v":78300},{"s":"L4","t":2018,"v":78200},{"s":"L4","t":2018.25,"v":78000},{"s":"L4","t":2018.5,"v":77900},{"s":"L4","t":2018.75,"v":77700},{"s":"L4","t":2019,"v":77600},{"s":"L4","t":2019.25,"v":77400},{"s":"L4","t":2019.5,"v":77300},{"s":"L4","t":2019.75,"v":77200},{"s":"L4","t":2020,"v":77000},{"s":"L4","t":2020.25,"v":76900},{"s":"L4","t":2020.5,"v":76700},{"s":"L4","t":2020.75,"v":76600},{"s":"L4","t":2021,"v":76500},{"s":"L4","t":2021.25,"v":76300},{"s":"L4","t":2021.5,"v":76200},{"s":"L4","t":2021.75,"v":76000},{"s":"L4","t":2022,"v":75900},{"s":"L4","t":2022.25,"v":75700},{"s":"L4","t":2022.5,"v":75600},{"s":"L4","t":2022.75,"v":75400},{"s":"L4","t":2023,"v":75300},{"s":"L4","t":2023.25,"v":75100},{"s":"L4","t":2023.5,"v":75000},
{"s":"L5","t":2008,"v":68500},{"s":"L5","t":2008.25,"v":68500},{"s":"L5","t":2008.5,"v":68600},{"s":"L5","t":2008.75,"v":68600},{"s":"L5","t":2009,"v":68700},{"s":"L5","t":2009.25,"v":68700},{"s":"L5","t":2009.5,"v":68700},{"s":"L5","t":2009.75,"v":68800},{"s":"L5","t":2010,"v":68800},{"s":"L5","t":2010.25,"v":68800},{"s":"L5","t":2010.5,"v":68900},{"s":"L5","t":2010.75,"v":68900},{"s":"L5","t":2011,"v":68900},{"s":"L5","t":2011.25,"v":69000},{"s":"L5","t":2011.5,"v":69000},{"s":"L5","t":2011.75,"v":69000},{"s":"L5","t":2012,"v":69000},{"s":"L5","t":2012.25,"v":69100},{"s":"L5","t":2012.5,"v":69100},{"s":"L5","t":2012.75,"v":69100},{"s":"L5","t":2013,"v":69000},{"s":"L5","t":2013.25,"v":69000},{"s":"L5","t":2013.5,"v":68900},{"s":"L5","t":2013.75,"v":68800},{"s":"L5","t":2014,"v":68600},{"s":"L5","t":2014.25,"v":68500},{"s":"L5","t":2014.5,"v":68400},{"s":"L5","t":2014.75,"v":68300},{"s":"L5","t":2015,"v":68200},{"s":"L5","t":2015.25,"v":68000},{"s":"L5","t":2015.5,"v":67900},{"s":"L5","t":2015.75,"v":67800},{"s":"L5","t":2016,"v":67700},{"s":"L5","t":2016.25,"v":67600},{"s":"L5","t":2016.5,"v":67500},{"s":"L5","t":2016.75,"v":67400},{"s":"L5","t":2017,"v":67200},{"s":"L5","t":2017.25,"v":67100},{"s":"L5","t":2017.5,"v":67000},{"s":"L5","t":2017.75,"v":66900},{"s":"L5","t":2018,"v":66700},{"s":"L5","t":2018.25,"v":66600},{"s":"L5","t":2018.5,"v":66600},{"s":"L5","t":2018.75,"v":66600},{"s":"L5","t":2019,"v":66600},{"s":"L5","t":2019.25,"v":66600},{"s":"L5","t":2019.5,"v":66600},{"s":"L5","t":2019.75,"v":66600},{"s":"L5","t":2020,"v":66600},{"s":"L5","t":2020.25,"v":66600},{"s":"L5","t":2020.5,"v":66500},{"s":"L5","t":2020.75,"v":66500},{"s":"L5","t":2021,"v":66500},{"s":"L5","t":2021.25,"v":66500},{"s":"L5","t":2021.5,"v":66500},{"s":"L5","t":2021.75,"v":66500},{"s":"L5","t":2022,"v":66500},{"s":"L5","t":2022.25,"v":66500},{"s":"L5","t":2022.5,"v":66500},{"s":"L5","t":2022.75,"v":66500},{"s":"L5","t":2023,"v":66500},{"s":"L5","t":2023.25,"v":66500},{"s":"L5","t":2023.5,"v":66500},
{"s":"L6","t":2008,"v":67000},{"s":"L6","t":2008.25,"v":66900},{"s":"L6","t":2008.5,"v":66800},{"s":"L6","t":2008.75,"v":66600},{"s":"L6","t":2009,"v":66500},{"s":"L6","t":2009.25,"v":66400},{"s":"L6","t":2009.5,"v":66300},{"s":"L6","t":2009.75,"v":66200},{"s":"L6","t":2010,"v":66000},{"s":"L6","t":2010.25,"v":65900},{"s":"L6","t":2010.5,"v":65800},{"s":"L6","t":2010.75,"v":65700},{"s":"L6","t":2011,"v":65600},{"s":"L6","t":2011.25,"v":65400},{"s":"L6","t":2011.5,"v":65300},{"s":"L6","t":2011.75,"v":65200},{"s":"L6","t":2012,"v":65100},{"s":"L6","t":2012.25,"v":65000},{"s":"L6","t":2012.5,"v":64800},{"s":"L6","t":2012.75,"v":64700},{"s":"L6","t":2013,"v":64600},{"s":"L6","t":2013.25,"v":64500},{"s":"L6","t":2013.5,"v":64400},{"s":"L6","t":2013.75,"v":64300},{"s":"L6","t":2014,"v":64200},{"s":"L6","t":2014.25,"v":64100},{"s":"L6","t":2014.5,"v":64100},{"s":"L6","t":2014.75,"v":64000},{"s":"L6","t":2015,"v":63900},{"s":"L6","t":2015.25,"v":63800},{"s":"L6","t":2015.5,"v":63700},{"s":"L6","t":2015.75,"v":63600},{"s":"L6","t":2016,"v":63500},{"s":"L6","t":2016.25,"v":63400},{"s":"L6","t":2016.5,"v":63300},{"s":"L6","t":2016.75,"v":63200},{"s":"L6","t":2017,"v":63200},{"s":"L6","t":2017.25,"v":63100},{"s":"L6","t":2017.5,"v":63000},{"s":"L6","t":2017.75,"v":62900},{"s":"L6","t":2018,"v":62800},{"s":"L6","t":2018.25,"v":62700},{"s":"L6","t":2018.5,"v":62700},{"s":"L6","t":2018.75,"v":62700},{"s":"L6","t":2019,"v":62600},{"s":"L6","t":2019.25,"v":62600},{"s":"L6","t":2019.5,"v":62600},{"s":"L6","t":2019.75,"v":62500},{"s":"L6","t":2020,"v":62500},{"s":"L6","t":2020.25,"v":62500},{"s":"L6","t":2020.5,"v":62500},{"s":"L6","t":2020.75,"v":62400},{"s":"L6","t":2021,"v":62400},{"s":"L6","t":2021.25,"v":62400},{"s":"L6","t":2021.5,"v":62300},{"s":"L6","t":2021.75,"v":62300},{"s":"L6","t":2022,"v":62300},{"s":"L6","t":2022.25,"v":62300},{"s":"L6","t":2022.5,"v":62200},{"s":"L6","t":2022.75,"v":62200},{"s":"L6","t":2023,"v":62200},{"s":"L6","t":2023.25,"v":62100},{"s":"L6","t":2023.5,"v":62100},
{"s":"L7","t":2008,"v":51300},{"s":"L7","t":2008.25,"v":51300},{"s":"L7","t":2008.5,"v":51200},{"s":"L7","t":2008.75,"v":51200},{"s":"L7","t":2009,"v":51200},{"s":"L7","t":2009.25,"v":51100},{"s":"L7","t":2009.5,"v":51100},{"s":"L7","t":2009.75,"v":51100},{"s":"L7","t":2010,"v":51000},{"s":"L7","t":2010.25,"v":51000},{"s":"L7","t":2010.5,"v":51000},{"s":"L7","t":2010.75,"v":51000},{"s":"L7","t":2011,"v":50900},{"s":"L7","t":2011.25,"v":50900},{"s":"L7","t":2011.5,"v":50900},{"s":"L7","t":2011.75,"v":50800},{"s":"L7","t":2012,"v":50800},{"s":"L7","t":2012.25,"v":50800},{"s":"L7","t":2012.5,"v":50800},{"s":"L7","t":2012.75,"v":50700},{"s":"L7","t":2013,"v":50700},{"s":"L7","t":2013.25,"v":50700},{"s":"L7","t":2013.5,"v":50800},{"s":"L7","t":2013.75,"v":50900},{"s":"L7","t":2014,"v":51000},{"s":"L7","t":2014.25,"v":51000},{"s":"L7","t":2014.5,"v":51100},{"s":"L7","t":2014.75,"v":51200},{"s":"L7","t":2015,"v":51300},{"s":"L7","t":2015.25,"v":51400},{"s":"L7","t":2015.5,"v":51500},{"s":"L7","t":2015.75,"v":51500},{"s":"L7","t":2016,"v":51600},{"s":"L7","t":2016.25,"v":51700},{"s":"L7","t":2016.5,"v":51800},{"s":"L7","t":2016.75,"v":51800},{"s":"L7","t":2017,"v":51900},{"s":"L7","t":2017.25,"v":52000},{"s":"L7","t":2017.5,"v":52000},{"s":"L7","t":2017.75,"v":52100},{"s":"L7","t":2018,"v":52100},{"s":"L7","t":2018.25,"v":52200},{"s":"L7","t":2018.5,"v":52200},{"s":"L7","t":2018.75,"v":52200},{"s":"L7","t":2019,"v":52200},{"s":"L7","t":2019.25,"v":52300},{"s":"L7","t":2019.5,"v":52300},{"s":"L7","t":2019.75,"v":52300},{"s":"L7","t":2020,"v":52300},{"s":"L7","t":2020.25,"v":52300},{"s":"L7","t":2020.5,"v":52300},{"s":"L7","t":2020.75,"v":52400},{"s":"L7","t":2021,"v":52400},{"s":"L7","t":2021.25,"v":52400},{"s":"L7","t":2021.5,"v":52400},{"s":"L7","t":2021.75,"v":52400},{"s":"L7","t":2022,"v":52400},{"s":"L7","t":2022.25,"v":52500},{"s":"L7","t":2022.5,"v":52500},{"s":"L7","t":2022.75,"v":52500},{"s":"L7","t":2023,"v":52500},{"s":"L7","t":2023.25,"v":52500},{"s":"L7","t":2023.5,"v":52500},
{"s":"L8","t":2008,"v":38700},{"s":"L8","t":2008.25,"v":38900},{"s":"L8","t":2008.5,"v":39100},{"s":"L8","t":2008.75,"v":39400},{"s":"L8","t":2009,"v":39600},{"s":"L8","t":2009.25,"v":39800},{"s":"L8","t":2009.5,"v":40100},{"s":"L8","t":2009.75,"v":40300},{"s":"L8","t":2010,"v":40500},{"s":"L8","t":2010.25,"v":40800},{"s":"L8","t":2010.5,"v":41000},{"s":"L8","t":2010.75,"v":41300},{"s":"L8","t":2011,"v":41600},{"s":"L8","t":2011.25,"v":41900},{"s":"L8","t":2011.5,"v":42200},{"s":"L8","t":2011.75,"v":42500},{"s":"L8","t":2012,"v":42800},{"s":"L8","t":2012.25,"v":43100},{"s":"L8","t":2012.5,"v":43500},{"s":"L8","t":2012.75,"v":43800},{"s":"L8","t":2013,"v":44100},{"s":"L8","t":2013.25,"v":44400},{"s":"L8","t":2013.5,"v":44800},{"s":"L8","t":2013.75,"v":45100},{"s":"L8","t":2014,"v":45500},{"s":"L8","t":2014.25,"v":45900},{"s":"L8","t":2014.5,"v":46300},{"s":"L8","t":2014.75,"v":46600},{"s":"L8","t":2015,"v":47000},{"s":"L8","t":2015.25,"v":47200},{"s":"L8","t":2015.5,"v":47300},{"s":"L8","t":2015.75,"v":47500},{"s":"L8","t":2016,"v":47600},{"s":"L8","t":2016.25,"v":47800},{"s":"L8","t":2016.5,"v":47900},{"s":"L8","t":2016.75,"v":48100},{"s":"L8","t":2017,"v":48200},{"s":"L8","t":2017.25,"v":48400},{"s":"L8","t":2017.5,"v":48500},{"s":"L8","t":2017.75,"v":48700},{"s":"L8","t":2018,"v":48800},{"s":"L8","t":2018.25,"v":49000},{"s":"L8","t":2018.5,"v":49000},{"s":"L8","t":2018.75,"v":49100},{"s":"L8","t":2019,"v":49100},{"s":"L8","t":2019.25,"v":49200},{"s":"L8","t":2019.5,"v":49200},{"s":"L8","t":2019.75,"v":49200},{"s":"L8","t":2020,"v":49300},{"s":"L8","t":2020.25,"v":49300},{"s":"L8","t":2020.5,"v":49400},{"s":"L8","t":2020.75,"v":49400},{"s":"L8","t":2021,"v":49400},{"s":"L8","t":2021.25,"v":49500},{"s":"L8","t":2021.5,"v":49500},{"s":"L8","t":2021.75,"v":49500},{"s":"L8","t":2022,"v":49600},{"s":"L8","t":2022.25,"v":49600},{"s":"L8","t":2022.5,"v":49700},{"s":"L8","t":2022.75,"v":49700},{"s":"L8","t":2023,"v":49700},{"s":"L8","t":2023.25,"v":49800},{"s":"L8","t":2023.5,"v":49800},
{"s":"L9","t":2008,"v":37500},{"s":"L9","t":2008.25,"v":37400},{"s":"L9","t":2008.5,"v":37300},{"s":"L9","t":2008.75,"v":37200},{"s":"L9","t":2009,"v":37100},{"s":"L9","t":2009.25,"v":37000},{"s":"L9","t":2009.5,"v":37000},{"s":"L9","t":2009.75,"v":36900},{"s":"L9","t":2010,"v":36800},{"s":"L9","t":2010.25,"v":36700},{"s":"L9","t":2010.5,"v":36600},{"s":"L9","t":2010.75,"v":36500},{"s":"L9","t":2011,"v":36400},{"s":"L9","t":2011.25,"v":36300},{"s":"L9","t":2011.5,"v":36200},{"s":"L9","t":2011.75,"v":36100},{"s":"L9","t":2012,"v":36000},{"s":"L9","t":2012.25,"v":35900},{"s":"L9","t":2012.5,"v":35800},{"s":"L9","t":2012.75,"v":35700},{"s":"L9","t":2013,"v":35700},{"s":"L9","t":2013.25,"v":35600},{"s":"L9","t":2013.5,"v":35500},{"s":"L9","t":2013.75,"v":35400},{"s":"L9","t":2014,"v":35400},{"s":"L9","t":2014.25,"v":35300},{"s":"L9","t":2014.5,"v":35200},{"s":"L9","t":2014.75,"v":35200},{"s":"L9","t":2015,"v":35100},{"s":"L9","t":2015.25,"v":35000},{"s":"L9","t":2015.5,"v":34900},{"s":"L9","t":2015.75,"v":34900},{"s":"L9","t":2016,"v":34800},{"s":"L9","t":2016.25,"v":34700},{"s":"L9","t":2016.5,"v":34600},{"s":"L9","t":2016.75,"v":34600},{"s":"L9","t":2017,"v":34500},{"s":"L9","t":2017.25,"v":34400},{"s":"L9","t":2017.5,"v":34400},{"s":"L9","t":2017.75,"v":34300},{"s":"L9","t":2018,"v":34200},{"s":"L9","t":2018.25,"v":34200},{"s":"L9","t":2018.5,"v":34100},{"s":"L9","t":2018.75,"v":34100},{"s":"L9","t":2019,"v":34000},{"s":"L9","t":2019.25,"v":34000},{"s":"L9","t":2019.5,"v":34000},{"s":"L9","t":2019.75,"v":33900},{"s":"L9","t":2020,"v":33900},{"s":"L9","t":2020.25,"v":33900},{"s":"L9","t":2020.5,"v":33800},{"s":"L9","t":2020.75,"v":33800},{"s":"L9","t":2021,"v":33800},{"s":"L9","t":2021.25,"v":33700},{"s":"L9","t":2021.5,"v":33700},{"s":"L9","t":2021.75,"v":33700},{"s":"L9","t":2022,"v":33600},{"s":"L9","t":2022.25,"v":33600},{"s":"L9","t":2022.5,"v":33500},{"s":"L9","t":2022.75,"v":33500},{"s":"L9","t":2023,"v":33500},{"s":"L9","t":2023.25,"v":33400},{"s":"L9","t":2023.5,"v":33400}
]
},
"layer":[
{"data":{"values":[{"t":2007.5},{"t":2012.5},{"t":2017.5},{"t":2022.5}]},"mark":{"type":"rule","color":"white","strokeWidth":1.1},"encoding":{"x":{"field":"t","type":"quantitative","title":"TID"}}},
{"data":{"values":[{"v":125000},{"v":375000},{"v":625000},{"v":875000}]},"mark":{"type":"rule","color":"white","strokeWidth":1.1},"encoding":{"y":{"field":"v","type":"quantitative","title":"INDHOLD"}}},
{"data":{"name":"pts"},"mark":{"type":"circle","color":"black","size":85,"opacity":1},
"encoding":{
"x":{"field":"t","type":"quantitative","title":"TID","scale":{"domain":[2007.225,2024.275],"nice":false,"zero":false},"axis":{"values":[2010,2015,2020],"labelExpr":"floor(datum.value) + ' Q' + (round((datum.value - floor(datum.value)) * 4) + 1)","labelPadding":2,"titleY":48,"titleBaseline":"alphabetic"}},
"y":{"field":"v","type":"quantitative","title":"INDHOLD","scale":{"domain":[-16100,1069000],"nice":false,"zero":false},"axis":{"values":[0,250000,500000,750000,1000000],"format":"d","labelPadding":4,"titleX":-89,"titleY":574,"titleBaseline":"alphabetic"}}
}}
]
}
